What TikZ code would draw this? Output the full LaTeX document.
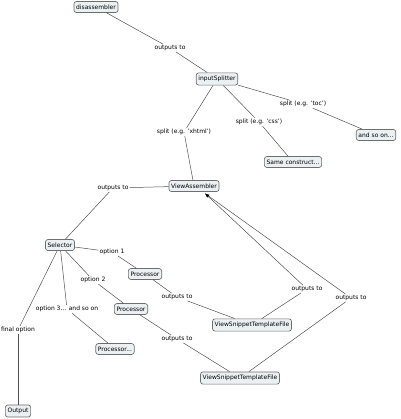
\documentclass[tikz,border=0pt]{standalone}
\usepackage{fontspec}
\setmainfont{DejaVu Sans}
\usepackage{tikz}
\usetikzlibrary{arrows}

\definecolor{boxfill}{HTML}{EBF0F3}
\definecolor{boxline}{HTML}{6E6E6E}
\definecolor{linkline}{HTML}{505050}

\begin{document}
\begin{tikzpicture}[x=1pt,y=-1pt,
	concept/.style={rectangle, rounded corners=2.5pt, draw=boxline, fill=boxfill, line width=0.7pt,
		inner xsep=2.2pt, inner ysep=3.2pt, font=\fontsize{6}{7}\selectfont},
	link/.style={inner sep=1pt, font=\fontsize{6}{7}\selectfont}]

	\useasboundingbox (0, 0) rectangle (400, 419);

	\node (c0) [concept] at (96, 7) {disassembler};
	\node (c1) [concept] at (217, 79) {inputSplitter};
	\node (c2) [concept] at (376, 135) {and so on...};
	\node (c3) [concept] at (293, 162) {Same construct...};
	\node (c4) [concept] at (194, 186) {ViewAssembler};
	\node (c5) [concept] at (60, 245) {Selector};
	\node (c6) [concept] at (145, 274) {Processor};
	\node (c7) [concept] at (131, 309) {Processor};
	\node (c8) [concept] at (115, 349) {Processor...};
	\node (c9) [concept] at (18, 411) {Output};
	\node (c10) [concept] at (252, 325) {ViewSnippetTemplateFile};
	\node (c11) [concept] at (240, 378) {ViewSnippetTemplateFile};

	\node (l0) [link] at (170, 48) {outputs to};
	\node (l1) [link] at (303, 104) {split (e.g. 'toc')};
	\node (l2) [link] at (259, 122) {split (e.g. 'css')};
	\node (l3) [link] at (184, 132) {split (e.g. 'xhtml')};
	\node (l4) [link] at (113, 188) {outputs to};
	\node (l5) [link] at (112, 252) {option 1};
	\node (l6) [link] at (93, 280) {option 2};
	\node (l7) [link] at (67, 309) {option 3... and so on};
	\node (l8) [link] at (18, 330) {final option};
	\node (l9) [link] at (177, 297) {outputs to};
	\node (l10) [link] at (177, 339) {outputs to};
	\node (l11) [link] at (307, 289) {outputs to};
	\node (l12) [link] at (351, 298) {outputs to};

	\coordinate (in) at (205, 193.5);

	\path[draw=linkline, line width=0.5pt]
	(c0) edge (l0)
	(l0) edge (c1)
	(c1) edge (l1)
	(l1) edge (c2)
	(c1) edge (l2)
	(l2) edge (c3)
	(c1) edge (l3)
	(l3) edge (c4)
	(c4) edge (l4)
	(l4) edge (c5)
	(c5) edge (l5)
	(l5) edge (c6)
	(c5) edge (l6)
	(l6) edge (c7)
	(c5) edge (l7)
	(l7) edge (c8)
	(c5) edge (l8)
	(l8) edge (c9)
	(c6) edge (l9)
	(l9) edge (c10)
	(c7) edge (l10)
	(l10) edge (c11)
	(c10) edge (l11)
	(l11) edge[-latex] (in)
	(c11) edge (l12)
	(l12) edge[-latex] (in);

\end{tikzpicture}
\end{document}
